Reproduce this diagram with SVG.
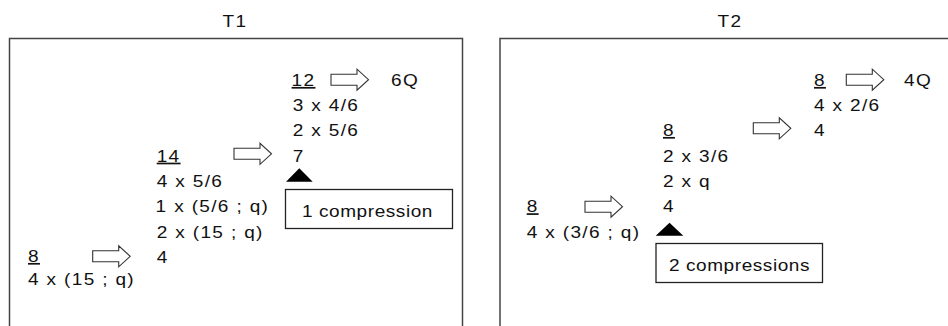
<svg xmlns="http://www.w3.org/2000/svg" width="948" height="326" viewBox="0 0 948 326">
<defs>
<style>
text{font-family:"Liberation Sans",Arial,sans-serif;font-size:17px;fill:#111;letter-spacing:1.2px}
.u{text-decoration:underline}
.lbl{letter-spacing:0.5px}
.panel{fill:#fff;stroke:#444;stroke-width:1.5}
.cbox{fill:#fff;stroke:#222;stroke-width:1.3}
.arr{fill:#fff;stroke:#333;stroke-width:1.1;stroke-linejoin:miter}
.tri{fill:#000}
</style>
<path id="barrow" class="arr" d="M0,-5.5 H26 V-10.5 L37.5,0 L26,10.5 V5.5 H0 Z"/>
</defs>
<rect width="948" height="326" fill="#fff"/>

<g id="panel-T1">
<rect class="panel" x="9.5" y="38.5" width="453" height="310"/>
<g transform="translate(235 0) scale(1.12 1)"><text x="0" y="26.7" text-anchor="middle">T1</text></g>
</g>
<g id="panel-T2">
<rect class="panel" x="500" y="38.5" width="470" height="310"/>
<g transform="translate(730 0) scale(1.12 1)"><text x="0" y="26.7" text-anchor="middle">T2</text></g>
</g>

<g id="t1-8" transform="translate(28 0) scale(1.12 1)">
<text x="0" y="262" class="u">8</text>
<text x="0" y="285.5">4 x (15 ; q)</text>
</g>
<g id="t1-14" transform="translate(156.7 0) scale(1.12 1)">
<text x="0" y="161.7" class="u">14</text>
<text x="0" y="186.7">4 x 5/6</text>
<text x="-1" y="212">1 x (5/6 ; q)</text>
<text x="0" y="237.7">2 x (15 ; q)</text>
<text x="0" y="263">4</text>
</g>
<g id="t1-12" transform="translate(292.7 0) scale(1.12 1)">
<text x="-1" y="86" class="u">12</text>
<text x="0" y="110.7">3 x 4/6</text>
<text x="0" y="136">2 x 5/6</text>
<text x="0" y="161.7">7</text>
</g>
<g id="t1-6Q" transform="translate(391 0) scale(1.12 1)">
<text x="0" y="86">6Q</text>
</g>
<g id="t1-compression">
<polygon class="tri" points="286,181.7 299.3,168.3 312.7,181.7"/>
<rect class="cbox" x="285.5" y="189.5" width="167" height="39"/>
<g transform="translate(302 0) scale(1.12 1)"><text x="0" y="216.7" class="lbl">1 compression</text></g>
</g>

<g id="t2-8a" transform="translate(526.7 0) scale(1.12 1)">
<text x="0" y="212.3" class="u">8</text>
<text x="0" y="237.7">4 x (3/6 ; q)</text>
</g>
<g id="t2-8b" transform="translate(663 0) scale(1.12 1)">
<text x="0" y="136" class="u">8</text>
<text x="0" y="161.7">2 x 3/6</text>
<text x="0" y="186.7">2 x q</text>
<text x="0" y="212.3">4</text>
</g>
<g id="t2-8c" transform="translate(814 0) scale(1.12 1)">
<text x="0" y="86" class="u">8</text>
<text x="0" y="110.7">4 x 2/6</text>
<text x="0" y="136">4</text>
</g>
<g id="t2-4Q" transform="translate(904 0) scale(1.12 1)">
<text x="0" y="86">4Q</text>
</g>
<g id="t2-compression">
<polygon class="tri" points="655.7,235.7 669.5,222.7 683.3,235.7"/>
<rect class="cbox" x="656" y="243.5" width="166.5" height="39"/>
<g transform="translate(669 0) scale(1.12 1)"><text x="0" y="270.7" class="lbl">2 compressions</text></g>
</g>

<g id="connectors">
<use href="#barrow" x="92.7" y="256.3"/>
<use href="#barrow" x="234" y="153.8"/>
<use href="#barrow" x="331" y="79.7"/>
<use href="#barrow" x="585" y="206.7"/>
<use href="#barrow" x="753.3" y="128.3"/>
<use href="#barrow" x="846.3" y="79.7"/>
</g>
</svg>
